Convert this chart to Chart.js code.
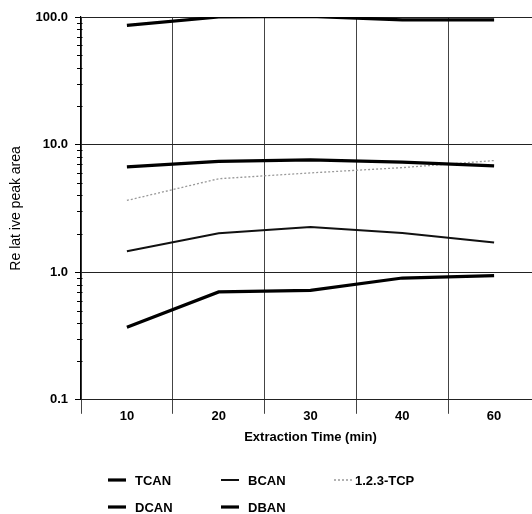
<!DOCTYPE html>
<html>
<head>
<meta charset="utf-8">
<script src="https://cdn.jsdelivr.net/npm/chart.js@4/dist/chart.umd.min.js"></script>
<style>
  html, body { margin: 0; padding: 0; background: #fff; overflow: hidden; }
  #clip { width: 532px; height: 514px; overflow: hidden; position: relative; }
  #wrap { width: 541px; height: 514px; position: relative; }
</style>
</head>
<body>
<div id="clip"><div id="wrap"><canvas id="c"></canvas></div></div>
<script>
// ---- data ----
const categories = ['10', '20', '30', '40', '60'];
const tcan   = [86, 100, 101, 95, 95];
const dcan   = [6.7, 7.4, 7.6, 7.3, 6.8];
const tcp    = [3.65, 5.4, 6.0, 6.6, 7.5];
const bcan   = [1.46, 2.02, 2.26, 2.03, 1.71];
const dban   = [0.37, 0.70, 0.72, 0.90, 0.94];
const yMajorTicks = [0.1, 1, 10, 100];
const seriesLabels = ['TCAN', 'DCAN', 'BCAN', 'DBAN', '1.2.3-TCP'];

// minor tick positions (2..9 within each decade)
const yMinorTicks = [];
yMajorTicks.forEach((m, i) => {
  if (i < yMajorTicks.length - 1) for (let k = 2; k <= 9; k++) yMinorTicks.push(+(m * k).toPrecision(6));
});

const FONT = '"Liberation Sans", Arial, sans-serif';

const ds = (label, data, width, color, dash) => ({
  label, data, borderColor: color, backgroundColor: color, borderWidth: width,
  borderDash: dash || [], pointRadius: 0, tension: 0, fill: false
});

const datasets = [
  ds(seriesLabels[0], tcan, 3.2, '#000'),
  ds(seriesLabels[1], dcan, 3.2, '#000'),
  ds(seriesLabels[2], bcan, 2, '#111'),
  ds(seriesLabels[3], dban, 3.2, '#000'),
  ds(seriesLabels[4], tcp, 1.3, '#999', [2, 2]),
];

// legend layout (columns/rows)
const legendOrder = [
  {i: 0, col: 0, row: 0}, {i: 2, col: 1, row: 0}, {i: 4, col: 2, row: 0},
  {i: 1, col: 0, row: 1}, {i: 3, col: 1, row: 1}
];

const legendPlugin = {
  id: 'customLegend',
  afterDraw(chart) {
    const ctx = chart.ctx;
    ctx.save();
    ctx.font = 'bold 13px ' + FONT;
    ctx.textBaseline = 'middle';
    ctx.fillStyle = '#000';
    legendOrder.forEach(o => {
      const d = chart.data.datasets[o.i];
      const x = 108 + o.col * 113;
      const y = 480 + o.row * 27;
      ctx.beginPath();
      ctx.strokeStyle = d.borderColor;
      ctx.lineWidth = d.borderWidth;
      ctx.setLineDash(d.borderDash || []);
      ctx.moveTo(x, y);
      ctx.lineTo(x + 18, y);
      ctx.stroke();
      ctx.setLineDash([]);
      ctx.fillText(d.label, x + (o.i === 4 ? 21 : 27), y + 1);
    });
    ctx.restore();
  }
};

const minorTickPlugin = {
  id: 'minorTicks',
  afterDraw(chart) {
    const y = chart.scales.y;
    const ctx = chart.ctx;
    const x0 = chart.chartArea.left;
    ctx.save();
    ctx.strokeStyle = '#000';
    ctx.lineWidth = 1;
    yMinorTicks.forEach(v => {
      const py = Math.round(y.getPixelForValue(v)) + 0.5;
      ctx.beginPath();
      ctx.moveTo(x0 - 4, py);
      ctx.lineTo(x0 + 1.5, py);
      ctx.stroke();
    });
    ctx.restore();
  }
};

new Chart(document.getElementById('c'), {
  type: 'line',
  data: { labels: categories, datasets },
  plugins: [legendPlugin, minorTickPlugin],
  options: {
    responsive: true,
    maintainAspectRatio: false,
    animation: false,
    layout: { padding: { left: 8, top: 17, right: 1, bottom: 69 } },
    plugins: { legend: { display: false }, tooltip: { enabled: false } },
    scales: {
      x: {
        type: 'category',
        offset: true,
        grid: { offset: true, color: '#444', lineWidth: 1, tickLength: 14, drawTicks: true, tickColor: '#444' },
        border: { display: false },
        ticks: { color: '#000', padding: -5, font: { family: FONT, size: 13, weight: 'bold' } },
        title: { display: true, text: 'Extraction Time (min)', color: '#000', padding: { top: 10, bottom: 0 },
                 font: { family: FONT, size: 13, weight: 'bold' } }
      },
      y: {
        type: 'logarithmic',
        min: 0.1, max: 100,
        afterBuildTicks: s => { s.ticks = yMajorTicks.map(v => ({ value: v, major: true })); },
        afterFit: s => { s.width = 73; },
        grid: { color: '#222', tickColor: '#000', tickLength: 6, lineWidth: 1 },
        border: { display: true, color: '#000', width: 1.2 },
        ticks: {
          autoSkip: false, color: '#000', padding: 7,
          font: { family: FONT, size: 13, weight: 'bold' },
          callback: v => Number(v).toFixed(1)
        },
        title: { display: true, text: 'Re lat ive peak area', color: '#000', padding: { top: 0, bottom: 4 },
                 font: { family: FONT, size: 14 } }
      }
    }
  }
});
</script>
</body>
</html>
